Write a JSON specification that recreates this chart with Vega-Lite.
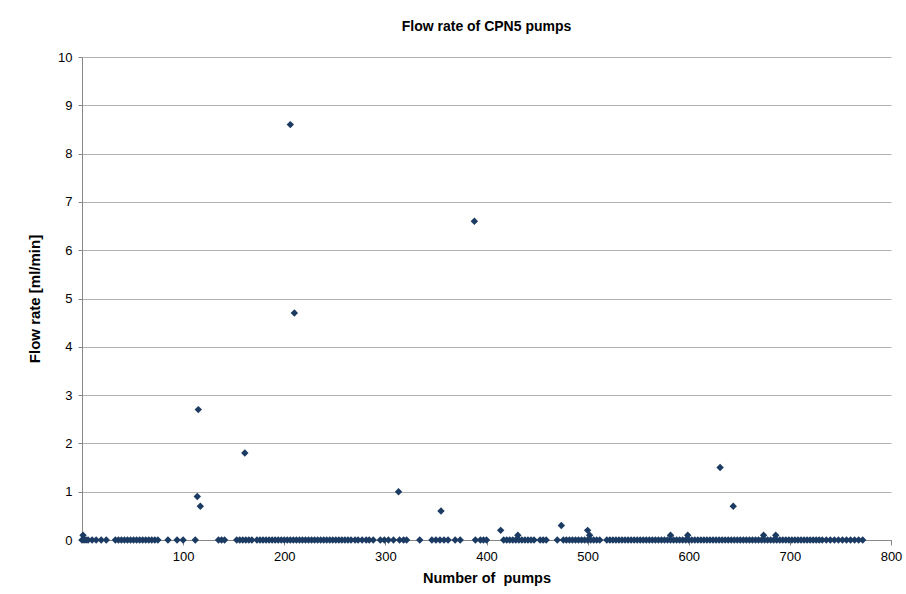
{
"$schema": "https://vega.github.io/schema/vega-lite/v6.json",
"width": 809,
"height": 483,
"autosize": "none",
"padding": {"left": 82, "top": 57, "right": 15, "bottom": 54},
"background": "white",
"title": {"text": "Flow rate of CPN5 pumps", "font": "Liberation Sans", "fontSize": 14, "fontWeight": "bold", "color": "#000000", "offset": 17, "anchor": "middle"},
"data": {"values": [
{"pump":1,"flow":0.1},{"pump":114,"flow":0.9},{"pump":115,"flow":2.7},{"pump":117,"flow":0.7},{"pump":161,"flow":1.8},{"pump":206,"flow":8.6},{"pump":210,"flow":4.7},{"pump":313,"flow":1.0},{"pump":355,"flow":0.6},{"pump":388,"flow":6.6},{"pump":414,"flow":0.2},{"pump":431,"flow":0.1},{"pump":474,"flow":0.3},{"pump":500,"flow":0.2},{"pump":502,"flow":0.1},{"pump":582,"flow":0.1},{"pump":599,"flow":0.1},{"pump":631,"flow":1.5},{"pump":644,"flow":0.7},{"pump":674,"flow":0.1},{"pump":686,"flow":0.1},
{"pump":0,"flow":0},{"pump":2,"flow":0},{"pump":4,"flow":0},{"pump":6,"flow":0},{"pump":10,"flow":0},{"pump":14,"flow":0},{"pump":19,"flow":0},{"pump":24,"flow":0},
{"pump":33,"flow":0},{"pump":36,"flow":0},{"pump":39,"flow":0},{"pump":42,"flow":0},{"pump":45,"flow":0},{"pump":48,"flow":0},{"pump":51,"flow":0},{"pump":54,"flow":0},{"pump":57,"flow":0},
{"pump":60,"flow":0},{"pump":63,"flow":0},{"pump":66,"flow":0},{"pump":69,"flow":0},{"pump":72,"flow":0},{"pump":75,"flow":0},
{"pump":85,"flow":0},{"pump":94,"flow":0},{"pump":100,"flow":0},{"pump":112,"flow":0},
{"pump":135,"flow":0},{"pump":138,"flow":0},{"pump":141,"flow":0},
{"pump":153,"flow":0},{"pump":156,"flow":0},{"pump":159,"flow":0},{"pump":162,"flow":0},{"pump":165,"flow":0},{"pump":168,"flow":0},
{"pump":173,"flow":0},{"pump":176,"flow":0},{"pump":179,"flow":0},{"pump":182,"flow":0},{"pump":185,"flow":0},{"pump":188,"flow":0},{"pump":191,"flow":0},{"pump":194,"flow":0},{"pump":197,"flow":0},{"pump":200,"flow":0},{"pump":203,"flow":0},{"pump":206,"flow":0},{"pump":209,"flow":0},{"pump":212,"flow":0},{"pump":215,"flow":0},{"pump":218,"flow":0},{"pump":221,"flow":0},{"pump":224,"flow":0},{"pump":227,"flow":0},{"pump":230,"flow":0},{"pump":233,"flow":0},{"pump":236,"flow":0},{"pump":239,"flow":0},{"pump":242,"flow":0},{"pump":245,"flow":0},{"pump":248,"flow":0},{"pump":251,"flow":0},{"pump":254,"flow":0},{"pump":257,"flow":0},{"pump":260,"flow":0},{"pump":263,"flow":0},
{"pump":266,"flow":0},{"pump":270,"flow":0},{"pump":273,"flow":0},{"pump":277,"flow":0},{"pump":281,"flow":0},{"pump":284,"flow":0},{"pump":288,"flow":0},
{"pump":295,"flow":0},{"pump":299,"flow":0},{"pump":303,"flow":0},{"pump":308,"flow":0},
{"pump":314,"flow":0},{"pump":318,"flow":0},{"pump":321,"flow":0},{"pump":334,"flow":0},
{"pump":346,"flow":0},{"pump":350,"flow":0},{"pump":354,"flow":0},{"pump":358,"flow":0},{"pump":362,"flow":0},
{"pump":369,"flow":0},{"pump":374,"flow":0},{"pump":389,"flow":0},
{"pump":394,"flow":0},{"pump":397,"flow":0},{"pump":400,"flow":0},
{"pump":417,"flow":0},{"pump":420,"flow":0},{"pump":423,"flow":0},{"pump":426,"flow":0},{"pump":429,"flow":0},{"pump":432,"flow":0},{"pump":435,"flow":0},{"pump":438,"flow":0},{"pump":441,"flow":0},{"pump":444,"flow":0},{"pump":447,"flow":0},
{"pump":453,"flow":0},{"pump":456,"flow":0},{"pump":459,"flow":0},{"pump":470,"flow":0},
{"pump":476,"flow":0},{"pump":479,"flow":0},{"pump":482,"flow":0},{"pump":485,"flow":0},{"pump":488,"flow":0},{"pump":491,"flow":0},{"pump":494,"flow":0},{"pump":497,"flow":0},{"pump":500,"flow":0},{"pump":503,"flow":0},{"pump":506,"flow":0},{"pump":509,"flow":0},{"pump":512,"flow":0},
{"pump":519,"flow":0},{"pump":522,"flow":0},{"pump":525,"flow":0},{"pump":528,"flow":0},{"pump":531,"flow":0},{"pump":534,"flow":0},{"pump":537,"flow":0},{"pump":540,"flow":0},{"pump":543,"flow":0},{"pump":546,"flow":0},{"pump":549,"flow":0},{"pump":552,"flow":0},{"pump":555,"flow":0},{"pump":558,"flow":0},{"pump":561,"flow":0},{"pump":564,"flow":0},{"pump":567,"flow":0},{"pump":570,"flow":0},{"pump":573,"flow":0},{"pump":576,"flow":0},{"pump":579,"flow":0},{"pump":582,"flow":0},{"pump":585,"flow":0},{"pump":588,"flow":0},{"pump":591,"flow":0},{"pump":594,"flow":0},{"pump":597,"flow":0},{"pump":600,"flow":0},{"pump":603,"flow":0},{"pump":606,"flow":0},{"pump":609,"flow":0},{"pump":612,"flow":0},{"pump":615,"flow":0},{"pump":618,"flow":0},{"pump":621,"flow":0},{"pump":624,"flow":0},{"pump":627,"flow":0},{"pump":630,"flow":0},{"pump":633,"flow":0},{"pump":636,"flow":0},{"pump":639,"flow":0},{"pump":642,"flow":0},{"pump":645,"flow":0},{"pump":648,"flow":0},{"pump":651,"flow":0},{"pump":654,"flow":0},{"pump":657,"flow":0},{"pump":660,"flow":0},{"pump":663,"flow":0},{"pump":666,"flow":0},{"pump":669,"flow":0},{"pump":672,"flow":0},{"pump":675,"flow":0},{"pump":678,"flow":0},{"pump":681,"flow":0},{"pump":684,"flow":0},{"pump":687,"flow":0},{"pump":690,"flow":0},{"pump":693,"flow":0},{"pump":696,"flow":0},{"pump":699,"flow":0},{"pump":702,"flow":0},{"pump":705,"flow":0},{"pump":708,"flow":0},{"pump":711,"flow":0},{"pump":714,"flow":0},{"pump":717,"flow":0},{"pump":720,"flow":0},{"pump":723,"flow":0},{"pump":726,"flow":0},{"pump":729,"flow":0},
{"pump":732,"flow":0},{"pump":736,"flow":0},{"pump":740,"flow":0},{"pump":744,"flow":0},{"pump":748,"flow":0},{"pump":752,"flow":0},{"pump":756,"flow":0},{"pump":760,"flow":0},{"pump":764,"flow":0},{"pump":768,"flow":0},{"pump":772,"flow":0}
]},
"mark": {"type": "point", "shape": "diamond", "filled": true, "size": 55, "color": "#1C3B63", "opacity": 1},
"encoding": {
"x": {"field": "pump", "type": "quantitative", "scale": {"domain": [0, 800], "nice": false, "zero": true},
 "axis": {"title": "Number of \u00a0pumps", "values": [100, 200, 300, 400, 500, 600, 700, 800], "grid": false, "tickSize": 5, "labelPadding": 5, "labelFlush": false, "titlePadding": 8}},
"y": {"field": "flow", "type": "quantitative", "scale": {"domain": [0, 10], "nice": false},
 "axis": {"title": "Flow rate [ml/min]", "titleFontSize": 15, "values": [0, 1, 2, 3, 4, 5, 6, 7, 8, 9, 10], "grid": true, "tickSize": 4, "labelPadding": 6, "labelFlush": false, "titlePadding": 15}}
},
"config": {
"view": {"stroke": null},
"axis": {"domainColor": "#868686", "tickColor": "#868686", "gridColor": "#B3B3B3", "domainWidth": 1, "gridWidth": 1, "labelFont": "Liberation Sans", "labelFontSize": 13, "labelColor": "#000000", "titleFont": "Liberation Sans", "titleFontSize": 14.5, "titleFontWeight": "bold", "titleColor": "#000000"}
}
}
